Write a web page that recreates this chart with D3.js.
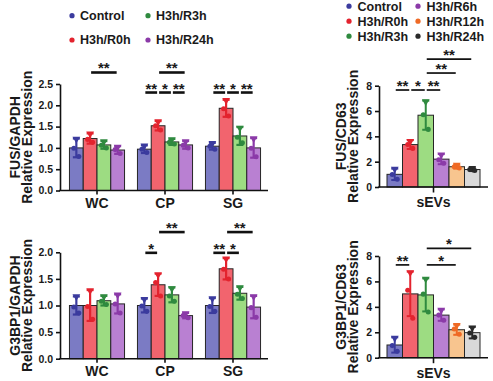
<!DOCTYPE html>
<html><head><meta charset="utf-8">
<script src="https://cdn.jsdelivr.net/npm/d3@7"></script>
<style>
html,body{margin:0;padding:0;background:#fff;}
svg{display:block;font-family:Arial,"Liberation Sans",Helvetica,sans-serif;font-weight:bold;}
</style></head><body>
<svg id="chart" width="493" height="381"></svg>
<script>
// ---------- data ----------
const leftCategories = ["WC", "CP", "SG"];
const leftSeries = ["Control", "H3h/R0h", "H3h/R3h", "H3h/R24h"];
const rightCategories = ["sEVs"];
const rightSeries = ["Control", "H3h/R0h", "H3h/R3h", "H3h/R6h", "H3h/R12h", "H3h/R24h"];

// FUS/GAPDH (rows: WC, CP, SG; cols: series)
const fusGapdhMean = [[1.00, 1.22, 1.07, 0.95], [0.97, 1.52, 1.14, 1.07], [1.04, 1.93, 1.28, 1.00]];
const fusGapdhSD   = [[0.22, 0.12, 0.09, 0.09], [0.09, 0.11, 0.07, 0.09], [0.08, 0.20, 0.21, 0.23]];
const fusGapdhPts  = [
  [[1.21, 0.99, 0.80], [1.33, 1.20, 1.13], [1.15, 1.06, 1.00], [1.02, 0.96, 0.87]],
  [[1.05, 0.97, 0.89], [1.62, 1.52, 1.42], [1.20, 1.13, 1.09], [1.15, 1.06, 1.00]],
  [[1.11, 1.04, 0.97], [2.12, 1.92, 1.75], [1.47, 1.25, 1.12], [1.22, 0.99, 0.79]]
];
// G3BP1/GAPDH
const g3bp1GapdhMean = [[1.00, 1.00, 1.09, 1.03], [1.00, 1.39, 1.20, 0.81], [1.00, 1.69, 1.23, 0.97]];
const g3bp1GapdhSD   = [[0.17, 0.29, 0.09, 0.18], [0.13, 0.21, 0.14, 0.05], [0.14, 0.20, 0.12, 0.21]];
const g3bp1GapdhPts  = [
  [[1.17, 0.97, 0.86], [1.28, 0.98, 0.74], [1.17, 1.08, 1.02], [1.20, 1.03, 0.86]],
  [[1.12, 0.99, 0.89], [1.58, 1.43, 1.18], [1.32, 1.18, 1.08], [0.85, 0.81, 0.77]],
  [[1.13, 0.98, 0.89], [1.88, 1.68, 1.50], [1.34, 1.21, 1.13], [1.17, 0.96, 0.78]]
];
// FUS/CD63 (sEVs)
const fusCd63Mean = [[1.00, 3.35, 5.67, 2.20, 1.60, 1.38]];
const fusCd63SD   = [[0.45, 0.35, 1.15, 0.40, 0.15, 0.12]];
const fusCd63Pts  = [[[1.43, 0.98, 0.62], [3.62, 3.35, 3.05], [6.75, 5.70, 4.55], [2.55, 2.15, 1.88], [1.74, 1.60, 1.50], [1.48, 1.38, 1.30]]];
// G3BP1/CD63 (sEVs)
const g3bp1Cd63Mean = [[1.00, 5.02, 4.94, 3.35, 2.20, 1.97]];
const g3bp1Cd63SD   = [[0.60, 1.75, 1.30, 0.45, 0.40, 0.45]];
const g3bp1Cd63Pts  = [[[1.55, 0.95, 0.50], [6.70, 5.30, 3.10], [6.20, 5.00, 3.60], [3.75, 3.35, 2.95], [2.55, 2.25, 1.85], [2.35, 1.95, 1.60]]];

// significance brackets: [category, from series idx, to series idx, label, height in data units]
const fusGapdhSig = [["WC",1,3,"**",2.77],["CP",0,1,"**",2.3],["CP",1,2,"*",2.3],["CP",2,3,"**",2.3],["CP",1,3,"**",2.77],
                     ["SG",0,1,"**",2.3],["SG",1,2,"*",2.3],["SG",2,3,"**",2.3]];
const g3bp1GapdhSig = [["CP",0,1,"*",1.99],["CP",1,3,"**",2.38],["SG",0,1,"**",1.99],["SG",1,2,"*",1.99],["SG",1,3,"**",2.38]];
const fusCd63Sig = [["sEVs",0,1,"**",7.66],["sEVs",1,2,"*",7.66],["sEVs",2,3,"**",7.66],["sEVs",2,4,"**",9.0],["sEVs",2,5,"**",10.1]];
const g3bp1Cd63Sig = [["sEVs",0,1,"**",7.3],["sEVs",2,4,"*",7.3],["sEVs",2,5,"*",8.6]];

const leftTicks = [0, 0.5, 1.0, 1.5, 2.0, 2.5];
const leftTicks2 = [0, 0.5, 1.0, 1.5, 2.0];
const rightTicks = [0, 2, 4, 6, 8];

// ---------- styles ----------
const leftFill = ["#7b7bc4", "#f2646e", "#9ddc82", "#b980d2"];
const leftDark = ["#3b3b9e", "#e3232e", "#2f8a3f", "#8b3aa8"];
const rightFill = ["#7b7bc4", "#f2646e", "#9ddc82", "#b980d2", "#f8c58f", "#d9d9d9"];
const rightDark = ["#3b3b9e", "#e3232e", "#2f8a3f", "#8b3aa8", "#ef6a25", "#2a2a2a"];

const svg = d3.select("#chart");

function drawPanel(o) {
  const g = svg.append("g");
  const y = d3.scaleLinear().domain([0, o.yMax]).range([o.yBase, o.yTop]);
  const x0 = d3.scaleBand().domain(o.cats).range(o.xr).paddingInner(o.pi).paddingOuter(o.po);
  const x1 = d3.scaleBand().domain(d3.range(o.series.length)).range([0, x0.bandwidth()]);
  const bw = x1.bandwidth();

  o.cats.forEach((c, ci) => {
    o.series.forEach((s, si) => {
      const m = o.mean[ci][si], sd = o.sd[ci][si];
      const xl = x0(c) + x1(si), cx = xl + bw / 2;
      g.append("rect").attr("x", xl).attr("y", y(m)).attr("width", bw).attr("height", y(0) - y(m))
        .attr("fill", o.fill[si]).attr("stroke", "#262626").attr("stroke-width", 1);
      const col = o.dark[si];
      g.append("line").attr("x1", cx).attr("x2", cx).attr("y1", y(m - sd)).attr("y2", y(m + sd))
        .attr("stroke", col).attr("stroke-width", o.ew);
      [m - sd, m + sd].forEach(v => g.append("line").attr("x1", cx - 3.5).attr("x2", cx + 3.5)
        .attr("y1", y(v)).attr("y2", y(v)).attr("stroke", col).attr("stroke-width", o.ew));
      const dxs = [0, -2.5, 2.5];
      o.pts[ci][si].forEach((v, k) => {
        const sym = k === 0 ? d3.symbol(d3.symbolTriangle, 26) : d3.symbol(d3.symbolCircle, 20);
        g.append("path").attr("d", sym())
          .attr("transform", `translate(${cx + dxs[k]},${y(v)})` + (k === 0 ? " rotate(180)" : ""))
          .attr("fill", col);
      });
    });
  });

  // y axis
  const ya = g.append("g").attr("transform", `translate(${o.ax},0)`)
    .call(d3.axisLeft(y).tickValues(o.ticks).tickSize(4).tickSizeOuter(0).tickPadding(3).tickFormat(o.fmt));
  ya.select(".domain").attr("stroke", "#111").attr("stroke-width", 1.6);
  ya.selectAll(".tick line").attr("stroke", "#111").attr("stroke-width", 1.6);
  ya.selectAll(".tick text").attr("font-size", "10.5px").attr("font-weight", "bold").attr("fill", "#1a1a1a")
    .attr("font-family", "Arial, 'Liberation Sans', sans-serif");

  // x axis
  const xa = g.append("g").attr("transform", `translate(0,${o.yBase})`)
    .call(d3.axisBottom(x0).tickSize(o.xts).tickPadding(o.xtp).tickSizeOuter(0));
  xa.select(".domain").remove();
  xa.selectAll(".tick line").attr("stroke", "#111").attr("stroke-width", 1.6);
  xa.selectAll(".tick text").attr("font-size", "14px").attr("font-weight", "bold").attr("fill", "#1a1a1a")
    .attr("font-family", "Arial, 'Liberation Sans', sans-serif");
  g.append("line").attr("x1", o.ax - 0.8).attr("x2", o.xEnd).attr("y1", o.yBase).attr("y2", o.yBase)
    .attr("stroke", "#111").attr("stroke-width", 1.6);

  // y labels
  [[o.lab1, o.lx1], ["Relative Expression", o.lx2]].forEach(([t, lx]) => {
    g.append("text").attr("transform", `translate(${lx},${(o.yBase + o.yTop) / 2}) rotate(-90)`)
      .attr("text-anchor", "middle").attr("font-size", "14px").attr("fill", "#1a1a1a").text(t);
  });

  // significance
  o.sig.forEach(([c, a, b, lab, h]) => {
    const xa_ = x0(c) + x1(a) + bw / 2 + 1, xb_ = x0(c) + x1(b) + bw / 2 - 1;
    g.append("line").attr("x1", xa_).attr("x2", xb_).attr("y1", y(h)).attr("y2", y(h))
      .attr("stroke", "#111").attr("stroke-width", o.sw);
    g.append("text").attr("x", (xa_ + xb_) / 2).attr("y", y(h) + 1).attr("text-anchor", "middle")
      .attr("font-size", "15px").attr("fill", "#1a1a1a").text(lab);
  });
}

function drawLegend(names, dark, x0s, ys, dotOff) {
  names.forEach((n, i) => {
    const c = Math.floor(i / ys.length), r = i % ys.length;
    svg.append("circle").attr("cx", x0s[c]).attr("cy", ys[r] - 4.3).attr("r", 2.6).attr("fill", dark[i]);
    svg.append("text").attr("x", x0s[c] + dotOff).attr("y", ys[r]).attr("font-size", "12.5px")
      .attr("fill", "#1a1a1a").text(n);
  });
}

const leftCommon = {cats: leftCategories, series: leftSeries, fill: leftFill, dark: leftDark,
  xr: [63, 267], pi: 0.19, po: 0.095, ax: 60, xEnd: 268, xts: 4, xtp: 3.5, ew: 2.2, sw: 2.6,
  lx1: 20, lx2: 31.5, fmt: d3.format(".1f")};
const rightCommon = {cats: rightCategories, series: rightSeries, fill: rightFill, dark: rightDark,
  xr: [379, 488], pi: 0, po: 0.086, ax: 379, xEnd: 488, xts: 5.5, xtp: 5, ew: 2, sw: 1.7,
  lx1: 345.5, lx2: 358, fmt: d3.format("d"), ticks: rightTicks, yMax: 8};

drawPanel(Object.assign({}, leftCommon, {mean: fusGapdhMean, sd: fusGapdhSD, pts: fusGapdhPts, sig: fusGapdhSig,
  yMax: 2.5, ticks: leftTicks, yBase: 190.5, yTop: 84, lab1: "FUS/GAPDH"}));
drawPanel(Object.assign({}, leftCommon, {mean: g3bp1GapdhMean, sd: g3bp1GapdhSD, pts: g3bp1GapdhPts, sig: g3bp1GapdhSig,
  yMax: 2.0, ticks: leftTicks2, yBase: 358.7, yTop: 252.3, lab1: "G3BP1/GAPDH"}));
drawPanel(Object.assign({}, rightCommon, {mean: fusCd63Mean, sd: fusCd63SD, pts: fusCd63Pts, sig: fusCd63Sig,
  yBase: 187, yTop: 85.7, lab1: "FUS/CD63"}));
drawPanel(Object.assign({}, rightCommon, {mean: g3bp1Cd63Mean, sd: g3bp1Cd63SD, pts: g3bp1Cd63Pts, sig: g3bp1Cd63Sig,
  yBase: 357.7, yTop: 256, lab1: "G3BP1/CD63"}));

drawLegend(leftSeries, leftDark, [72, 148], [20, 44.3], 8);
drawLegend(rightSeries, rightDark, [349, 418], [10.5, 25.5, 40.5], 8.5);
</script>
</body></html>
